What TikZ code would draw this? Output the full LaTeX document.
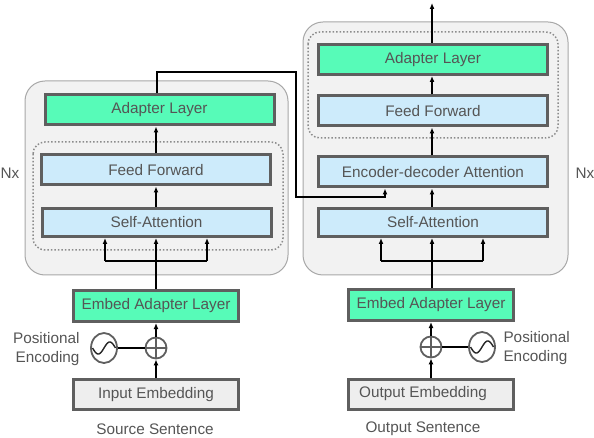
\documentclass[tikz,border=0pt]{standalone}
\usepackage{fontspec}
\setmainfont{Liberation Sans}
\usetikzlibrary{arrows.meta,shapes.geometric}
\definecolor{agreen}{HTML}{57FBB8}
\definecolor{ablue}{HTML}{CDEBFB}
\definecolor{agray}{HTML}{EEEEEE}
\definecolor{bordergray}{HTML}{5F5F5F}
\definecolor{txtgray}{HTML}{555555}
\definecolor{outerfill}{HTML}{F2F2F2}
\definecolor{outerdraw}{HTML}{A8A8A8}
\tikzset{
  txt/.style={text=txtgray,font=\fontsize{15.3}{19}\selectfont},
  layer/.style={txt,draw=bordergray,line width=3pt,minimum width=229pt,minimum height=30pt,inner sep=0pt},
  greenlayer/.style={layer,fill=agreen},
  bluelayer/.style={layer,fill=ablue},
  embedlayer/.style={layer,fill=agreen,minimum width=165pt,minimum height=31pt},
  inlayer/.style={layer,fill=agray,minimum width=165pt,minimum height=30pt},
  outerbox/.style={fill=outerfill,draw=outerdraw,line width=1pt,rounded corners=20pt},
  dotbox/.style={draw=black!45,dotted,line width=1.5pt,rounded corners=12pt},
  arr/.style={line width=1.5pt,-{Latex[length=6pt,width=5pt]}},
  ln/.style={line width=1.5pt},
  pluscirc/.style={circle,draw=bordergray,line width=1.8pt,minimum size=21pt,inner sep=0pt},
  sinecirc/.style={ellipse,draw=bordergray,line width=1.8pt,minimum width=26pt,minimum height=30pt,inner sep=0pt},
}
\begin{document}
\begin{tikzpicture}[x=1pt,y=-1pt]
\useasboundingbox (0,0) rectangle (594,438);
% outer boxes
\draw[outerbox] (25,81) rectangle (288,275);
\draw[outerbox] (303,22) rectangle (568,275);
\draw[dotbox] (33,142) rectangle (283,250);
\draw[dotbox] (308,32) rectangle (558,138);
% encoder
\node[greenlayer] (LAd) at (159.5,110) {Adapter Layer};
\node[bluelayer] (LFF) at (156,170) {Feed Forward};
\node[bluelayer,minimum height=28pt] (LSA) at (156.5,222.5) {Self-Attention};
\node[txt] (LNx) at (10,173) {Nx};
% decoder
\node[greenlayer] (RAd) at (433,59.5) {Adapter Layer};
\node[bluelayer] (RFF) at (433,111) {Feed Forward};
\node[bluelayer] (REd) at (433,172) {Encoder-decoder Attention};
\node[bluelayer,minimum height=28pt] (RSA) at (433,222.5) {Self-Attention};
\node[txt] (RNx) at (585,173) {Nx};
% bottom
\node[embedlayer] (LEmb) at (156,306) {Embed Adapter Layer};
\node[inlayer] (LIn) at (156,394.5) {Input Embedding};
\node[embedlayer] (REmb) at (431,305) {Embed Adapter Layer};
\node[inlayer] (ROut) at (431,394) {Output Embedding\hspace*{16pt}};
\node[pluscirc] (LPlus) at (156,348) {};
\node[pluscirc] (RPlus) at (431,347) {};
\node[sinecirc] (LSin) at (104,348) {};
\node[sinecirc] (RSin) at (482,347) {};
\foreach \p in {LPlus,RPlus}{
  \draw[line width=1.2pt,bordergray] (\p.west) -- (\p.east);
  \draw[line width=1.2pt,bordergray] (\p.north) -- (\p.south);
}
\begin{scope}[shift={(104,348)}]
  \draw[line width=1.4pt,black!85] plot[domain=-11.5:11.5,samples=50,smooth] ({\x},{-6*sin(15.65*\x)});
\end{scope}
\begin{scope}[shift={(482,347)}]
  \draw[line width=1.4pt,black!85] plot[domain=-11.5:11.5,samples=50,smooth] ({\x},{-6*sin(15.65*\x)});
\end{scope}
\node[txt,align=right,anchor=east] (LPos) at (83,349) {Positional\\Encoding};
\node[txt,align=left,anchor=west] (RPos) at (500,348) {Positional\\Encoding};
\node[txt] (LSrc) at (155,429) {Source Sentence};
\node[txt] (RSrc) at (423,429) {Output Sentence};
% bottom connectors
\draw[arr] (LIn.north) -- (LPlus.south);
\draw[arr] (LPlus.north) -- (LEmb.south);
\draw[ln] (LSin.east) -- (LPlus.west);
\draw[arr] (ROut.north) -- (RPlus.south);
\draw[arr] (RPlus.north) -- (REmb.south);
\draw[ln] (RPlus.east) -- (RSin.west);
% encoder connectors
\coordinate (LJ) at (156,261);
\coordinate (LJl) at (105,261);
\coordinate (LJr) at (207,261);
\draw[ln] (LEmb.north) -- (LJ);
\draw[ln] (LJl) -- (LJr);
\draw[arr] (LJ) -- (LSA.south -| LJ);
\draw[arr] (LJl) -- (LSA.south -| LJl);
\draw[arr] (LJr) -- (LSA.south -| LJr);
\draw[arr] (LSA.north -| LJ) -- (LFF.south -| LJ);
\draw[arr] (LFF.north -| LJ) -- (LAd.south -| LJ);
% decoder connectors
\coordinate (RJ) at (432,261);
\coordinate (RJl) at (381,261);
\coordinate (RJr) at (483,261);
\draw[ln] (REmb.north -| RJ) -- (RJ);
\draw[ln] (RJl) -- (RJr);
\draw[arr] (RJ) -- (RSA.south -| RJ);
\draw[arr] (RJl) -- (RSA.south -| RJl);
\draw[arr] (RJr) -- (RSA.south -| RJr);
\draw[arr] (RSA.north -| RJ) -- (REd.south -| RJ);
\draw[arr] (REd.north -| RJ) -- (RFF.south -| RJ);
\draw[arr] (RFF.north -| RJ) -- (RAd.south -| RJ);
\coordinate (ROutTop) at (432,3);
\draw[arr] (RAd.north -| RJ) -- (ROutTop);
% cross connector
\coordinate (C1) at (157,72);
\coordinate (C2) at (296,72);
\coordinate (C3) at (296,197);
\coordinate (C4) at (385,197);
\draw[arr] (LAd.north -| C1) -- (C1) -- (C2) -- (C3) -- (C4) -- (REd.south -| C4);
\end{tikzpicture}
\end{document}
